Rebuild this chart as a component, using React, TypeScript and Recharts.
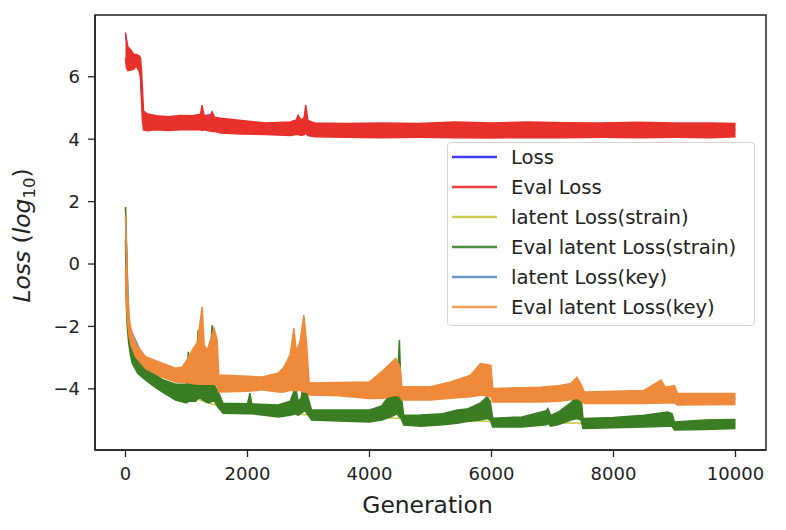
import React from 'react';
import { ComposedChart, Area, XAxis, YAxis, ReferenceArea, Legend } from 'recharts';

// ---- data ----
// bands: [generation, low, high]
const evalLossBand: [number, number, number][] = [
  [0, 6.6, 7.42], [15, 6.3, 7.2], [40, 6.2, 6.95], [90, 6.22, 6.85], [140, 6.25, 6.7],
  [170, 6.35, 6.72], [220, 6.2, 6.68], [245, 6.0, 6.6], [262, 5.3, 6.2], [278, 4.6, 5.6],
  [295, 4.3, 4.9], [350, 4.27, 4.82], [500, 4.3, 4.75], [700, 4.28, 4.72], [900, 4.3, 4.76],
  [1100, 4.3, 4.75], [1230, 4.3, 4.8], [1255, 4.28, 5.09], [1285, 4.3, 4.78], [1380, 4.26, 4.72],
  [1420, 4.25, 4.88], [1460, 4.25, 4.7], [1560, 4.2, 4.67], [1900, 4.17, 4.6], [2300, 4.15, 4.52],
  [2700, 4.12, 4.55], [2800, 4.15, 4.62], [2830, 4.15, 4.77], [2880, 4.12, 4.6], [2930, 4.15, 4.7],
  [2955, 4.2, 5.09], [2990, 4.12, 4.6], [3100, 4.08, 4.52], [3600, 4.06, 4.5], [4200, 4.05, 4.52],
  [4800, 4.06, 4.5], [5400, 4.05, 4.55], [6000, 4.04, 4.52], [6600, 4.05, 4.55], [7200, 4.05, 4.53],
  [7800, 4.06, 4.52], [8400, 4.05, 4.54], [9000, 4.06, 4.52], [9600, 4.05, 4.52], [10000, 4.08, 4.5],
];

const evalStrainBand: [number, number, number][] = [
  [0, 0.8, 1.83], [10, -1.0, 1.2], [25, -1.9, -0.6], [50, -2.5, -1.8], [80, -2.9, -2.3],
  [110, -3.18, -2.6], [200, -3.5, -3.0], [330, -3.72, -3.3], [450, -3.9, -3.5], [600, -4.1, -3.7],
  [820, -4.36, -3.85], [1000, -4.45, -3.85], [1030, -4.4, -2.81], [1060, -4.4, -3.85],
  [1150, -4.4, -3.8], [1190, -4.3, -2.12], [1230, -4.3, -3.8], [1300, -4.4, -3.85],
  [1360, -4.45, -3.9], [1420, -4.4, -1.96], [1460, -4.4, -3.9], [1520, -4.6, -4.1],
  [1600, -4.78, -4.46], [2000, -4.8, -4.48], [2040, -4.8, -4.14], [2070, -4.8, -4.48],
  [2500, -4.9, -4.52], [2700, -4.85, -4.4], [2790, -4.8, -3.93], [2830, -4.85, -4.4],
  [2880, -4.78, -4.3], [2940, -4.7, -3.5], [2980, -4.8, -4.2], [3050, -5.0, -4.68],
  [3500, -5.03, -4.68], [4000, -5.06, -4.68], [4200, -5.0, -4.55], [4350, -4.9, -4.14],
  [4450, -4.8, -4.1], [4490, -4.9, -2.44], [4520, -4.95, -4.2], [4560, -5.16, -4.85],
  [4840, -5.2, -4.84], [5200, -5.15, -4.8], [5440, -5.1, -4.68], [5600, -5.05, -4.65],
  [5820, -5.0, -4.45], [5930, -4.95, -4.26], [5980, -5.0, -4.4], [6020, -5.22, -4.94],
  [6500, -5.22, -4.9], [6900, -5.15, -4.7], [6925, -5.1, -4.63], [6970, -5.2, -4.85],
  [7090, -5.15, -4.75], [7300, -5.0, -4.45], [7400, -4.95, -4.26], [7470, -5.0, -4.3],
  [7500, -5.27, -4.95], [8000, -5.25, -4.92], [8500, -5.22, -4.85], [8890, -5.2, -4.74],
  [8960, -5.2, -4.8], [9000, -5.32, -5.06], [9500, -5.3, -5.0], [10000, -5.27, -4.98],
];

const evalKeyBand: [number, number, number][] = [
  [0, -0.2, 1.57], [15, -1.3, 0.6], [35, -1.9, -0.9], [60, -2.3, -1.7], [90, -2.6, -2.1],
  [164, -2.97, -2.55], [330, -3.35, -2.97], [600, -3.62, -3.18], [820, -3.78, -3.34],
  [930, -3.8, -3.3], [1000, -3.8, -3.1], [1095, -3.83, -2.76], [1180, -3.85, -2.5],
  [1257, -3.85, -1.37], [1290, -3.85, -2.6], [1340, -3.85, -2.76], [1400, -3.85, -2.4],
  [1450, -3.85, -2.06], [1500, -3.9, -2.4], [1530, -4.1, -3.56], [2000, -4.08, -3.6],
  [2240, -4.03, -3.62], [2500, -4.1, -3.5], [2600, -4.1, -3.3], [2700, -4.05, -2.9],
  [2760, -4.05, -2.06], [2800, -4.05, -2.8], [2860, -4.05, -2.5], [2925, -4.1, -1.64],
  [2970, -4.1, -2.6], [3010, -4.2, -3.81], [3500, -4.22, -3.8], [4000, -4.31, -3.78],
  [4230, -4.3, -3.4], [4430, -4.2, -3.03], [4500, -4.25, -3.3], [4530, -4.36, -3.93],
  [5000, -4.36, -3.93], [5330, -4.3, -3.78], [5660, -4.25, -3.56], [5820, -4.2, -3.19],
  [5990, -4.25, -3.25], [6020, -4.42, -3.99], [6800, -4.42, -3.95], [7100, -4.4, -3.9],
  [7300, -4.35, -3.83], [7400, -4.3, -3.63], [7480, -4.4, -3.9], [7520, -4.47, -4.1],
  [8500, -4.47, -4.05], [8780, -4.45, -3.72], [8850, -4.45, -3.95], [9000, -4.45, -3.9],
  [9050, -4.52, -4.15], [10000, -4.5, -4.15],
];

// training curves (mostly hidden beneath the eval curves): [generation, value]
const lossLine: [number, number][] = [
  [0, 7.35], [60, 6.6], [160, 6.5], [240, 6.3], [285, 4.6], [600, 4.5], [1420, 4.8],
  [1500, 4.42], [3000, 4.3], [6000, 4.28], [10000, 4.3],
];
const latentStrainLine: [number, number][] = [
  [0, 1.8], [50, -2.1], [330, -3.5], [820, -4.1], [1600, -4.6], [3050, -4.85],
  [6020, -5.05], [7500, -5.1], [10000, -5.12],
];
const latentKeyLine: [number, number][] = [
  [0, 1.5], [60, -2.0], [330, -3.15], [820, -3.55], [1530, -3.8], [3010, -4.0],
  [4530, -4.15], [6020, -4.2], [7300, -4.1], [7400, -3.75], [7480, -4.15], [7520, -4.28],
  [10000, -4.32],
];

const xTicks = [0, 2000, 4000, 6000, 8000, 10000];
const yTicks = [-4, -2, 0, 2, 4, 6];

const seriesNames = [
  'Loss',
  'Eval Loss',
  'latent Loss(strain)',
  'Eval latent Loss(strain)',
  'latent Loss(key)',
  'Eval latent Loss(key)',
];
const legendColors = ['#3c3cf5', '#e8403a', '#cccc55', '#4a8f3a', '#6a98c8', '#f5a05a'];
const plotColors = ['#3a3af5', '#e8312a', '#c8c840', '#3a7d23', '#5b8fc4', '#ef8a3a'];

const toBand = (rows: [number, number, number][]) => rows.map(([g, lo, hi]) => ({ g, band: [lo, hi] }));
const toLine = (rows: [number, number][]) => rows.map(([g, v]) => ({ g, v }));

const FONT = 'DejaVu Sans, Verdana, sans-serif';
const INK = '#222';

const fmtY = (v: number) => String(v).replace('-', '\u2212');

const YLabel = (props: any) => {
  const vb = props.viewBox || { x: 0, y: 15, width: 95, height: 435 };
  const cy = vb.y + vb.height / 2 + 3;
  const x = 30;
  return (
    <text
      x={x}
      y={cy}
      transform={`rotate(-90 ${x} ${cy})`}
      textAnchor="middle"
      fill={INK}
      fontFamily={FONT}
      fontSize={23.4}
    >
      <tspan fontStyle="italic">Loss</tspan>
      <tspan> (</tspan>
      <tspan fontStyle="italic">log</tspan>
      <tspan fontSize={16.5} dy={5}>10</tspan>
      <tspan dy={-5}>)</tspan>
    </text>
  );
};

const XLabel = (props: any) => {
  const vb = props.viewBox || { x: 95, y: 450, width: 671, height: 80 };
  return (
    <text x={vb.x + vb.width / 2 - 3} y={513} textAnchor="middle" fill={INK} fontFamily={FONT} fontSize={23.4}>
      Generation
    </text>
  );
};

const LegendBox = () => {
  const rowY = [14, 44, 74, 104, 134, 164];
  return (
    <div
      style={{
        width: 306,
        height: 182,
        border: '1px solid #d4d4d4',
        borderRadius: 4,
        background: 'rgba(255,255,255,0.8)',
        boxSizing: 'content-box',
      }}
    >
      <svg width={306} height={182} style={{ display: 'block' }}>
        {seriesNames.map((name, i) => (
          <g key={name}>
            <line x1={4} x2={49} y1={rowY[i]} y2={rowY[i]} stroke={legendColors[i]} strokeWidth={2.6} />
            <text x={63} y={rowY[i] + 7} fill={INK} fontFamily={FONT} fontSize={19.6}>
              {name}
            </text>
          </g>
        ))}
      </svg>
    </div>
  );
};

const bandProps = { type: 'linear' as const, strokeWidth: 1.5, fillOpacity: 1, dot: false, activeDot: false, isAnimationActive: false };
const lineProps = { type: 'linear' as const, strokeWidth: 1.5, fill: 'none', dot: false, activeDot: false, isAnimationActive: false };

export default function App() {
  return (
    <div style={{ position: 'absolute', left: 0, top: 0, width: 786, height: 530, background: '#fff' }}>
      <ComposedChart width={786} height={530} margin={{ top: 15, right: 20, left: 0, bottom: 0 }}>
        <XAxis
          type="number"
          dataKey="g"
          domain={[-500, 10500]}
          ticks={xTicks}
          allowDataOverflow
          height={80}
          tickSize={7}
          tickMargin={10}
          axisLine={{ stroke: INK, strokeWidth: 1.5 }}
          tickLine={{ stroke: INK, strokeWidth: 1.3 }}
          tick={{ fill: INK, fontSize: 18, fontFamily: FONT }}
          label={(p: any) => <XLabel {...p} />}
        />
        <YAxis
          type="number"
          domain={[-5.96, 7.98]}
          ticks={yTicks}
          allowDataOverflow
          width={95}
          tickSize={7}
          tickMargin={8}
          tickFormatter={fmtY}
          axisLine={{ stroke: INK, strokeWidth: 1.5 }}
          tickLine={{ stroke: INK, strokeWidth: 1.3 }}
          tick={{ fill: INK, fontSize: 18, fontFamily: FONT }}
          label={(p: any) => <YLabel {...p} />}
        />
        <Area {...lineProps} data={toLine(lossLine)} dataKey="v" name={seriesNames[0]} stroke={plotColors[0]} />
        <Area {...bandProps} data={toBand(evalLossBand)} dataKey="band" name={seriesNames[1]} stroke={plotColors[1]} fill={plotColors[1]} />
        <Area {...lineProps} data={toLine(latentStrainLine)} dataKey="v" name={seriesNames[2]} stroke={plotColors[2]} />
        <Area {...bandProps} data={toBand(evalStrainBand)} dataKey="band" name={seriesNames[3]} stroke={plotColors[3]} fill={plotColors[3]} />
        <Area {...lineProps} data={toLine(latentKeyLine)} dataKey="v" name={seriesNames[4]} stroke={plotColors[4]} />
        <Area {...bandProps} data={toBand(evalKeyBand)} dataKey="band" name={seriesNames[5]} stroke={plotColors[5]} fill={plotColors[5]} />
        <ReferenceArea x1={-500} x2={10500} y1={-5.96} y2={7.98} fill="none" stroke={INK} strokeWidth={1.5} ifOverflow="visible" />
        <Legend
          layout="horizontal"
          verticalAlign="middle"
          align="center"
          content={() => <LegendBox />}
          wrapperStyle={{ left: 447, top: 142, width: 308, height: 184 }}
        />
      </ComposedChart>
    </div>
  );
}
